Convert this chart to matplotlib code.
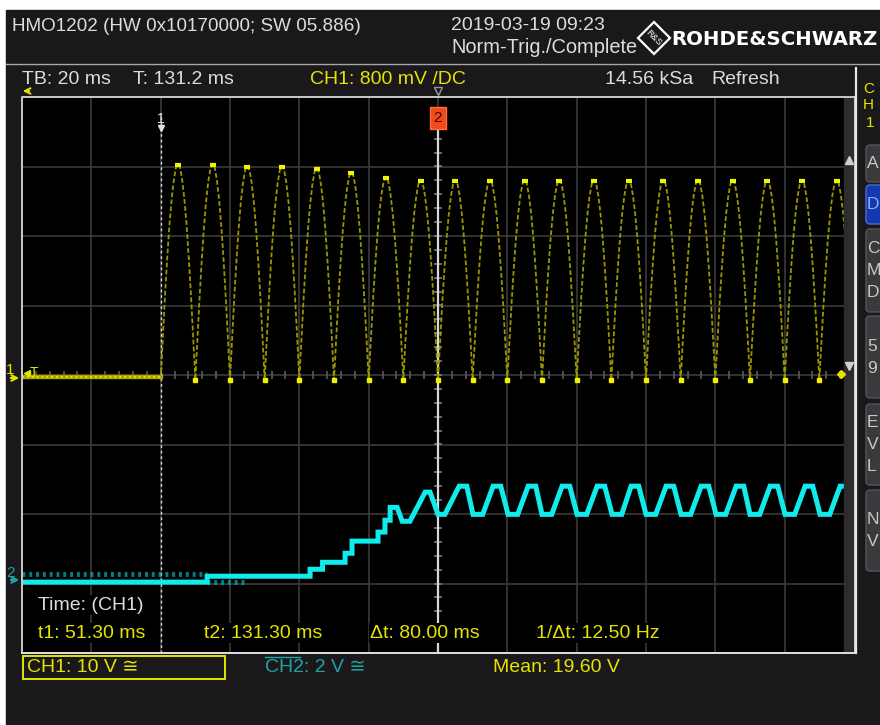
import numpy as np
import matplotlib.pyplot as plt
from matplotlib.patches import Rectangle, Polygon, FancyBboxPatch

plt.rcParams['font.family'] = ['Liberation Sans', 'DejaVu Sans']

W, H = 880, 725

# ---- values ----
tb_ms_per_div = 20
t_left_ms = 11.3          # left edge of the screen
t1_ms, t2_ms = 51.3, 131.3

# CH1: rectified mains, 10 V/div, ground at screen centre
ch1_v_per_div = 10
ch1_idle_v = -0.3
ch1_start_ms = 51.3
ch1_halfcycle_ms = 10
ch1_peak_v = [30.4, 30.4, 30.1, 30.1, 29.8, 29.2, 28.5, 28.1, 28.1, 28.1,
              28.1, 28.1, 28.1, 28.1, 28.1, 28.1, 28.1, 28.1, 28.1, 28.1]
ch1_trough_v = -0.7
ch1_pulse_shape = [0.0, 0.2, 0.39, 0.56, 0.71, 0.83, 0.92, 0.98, 1.0,
                   0.98, 0.92, 0.83, 0.71, 0.56, 0.39, 0.2, 0.0]

# CH2: 2 V/div, ground 2.91 div below centre
ch2_v_per_div = 2
ch2_offset_div = -2.91
ch2_ramp_t = [11.3, 64.7, 64.7, 94.4, 94.4, 98.0, 98.0, 104.5, 104.5, 106.5, 106.5, 114.0,
              114.0, 116.0, 116.0, 117.5, 117.5, 119.5, 121.0, 123.2, 127.6, 129.0, 131.3, 133.3]
ch2_ramp_v = [-0.14, -0.14, 0.03, 0.03, 0.23, 0.23, 0.43, 0.43, 0.69, 0.69, 1.04, 1.04,
              1.30, 1.30, 1.64, 1.64, 2.01, 2.01, 1.61, 1.61, 2.45, 2.45, 1.81, 1.81]
ch2_peak_t = [138.5, 148.3, 158.4, 168.2, 178.3, 188.1, 198.2, 208.3, 218.4, 228.2, 238.3, 248.4]
ch2_peak_v = [2.62, 2.62, 2.62, 2.62, 2.62, 2.62, 2.62, 2.62, 2.62, 2.62, 2.62, 2.62]
ch2_trough_t = [142.8, 152.9, 162.7, 172.8, 182.9, 192.7, 202.8, 212.9, 222.7, 232.8, 242.9]
ch2_trough_v = [1.81, 1.81, 1.81, 1.81, 1.81, 1.81, 1.81, 1.81, 1.81, 1.81, 1.81]
ch2_jitter_t = [(11.3, 64.7), (64.7, 76.2)]
ch2_jitter_v = [0.10, -0.14]

YEL = '#e4e400'
CYAN = '#10ecec'
TEAL = '#1fa3a3'
GRID = '#3a3a3a'
TXT = '#dcdcdc'


def px_box(x0, y0, x1, y1):
    return [x0 / W, 1 - y1 / H, (x1 - x0) / W, (y1 - y0) / H]


fig = plt.figure(figsize=(W / 100, H / 100), dpi=100)
fig.patch.set_facecolor('white')

bg = fig.add_axes([0, 0, 1, 1], zorder=0)
bg.set_xlim(0, W)
bg.set_ylim(H, 0)
bg.axis('off')
bg.add_patch(Rectangle((6, 10), W, H, color='#1b181b'))

# ---- scope screen ----
ax = fig.add_axes(px_box(22, 97, 854, 653), zorder=1)
ax.set_facecolor('black')
ax.set_xlim(t_left_ms, t_left_ms + 12 * tb_ms_per_div)
ax.set_ylim(-4, 4)
ax.set_xticks(t_left_ms + tb_ms_per_div * np.arange(13))
ax.set_yticks(np.arange(-4, 5))
ax.grid(color=GRID, lw=1.2)
ax.tick_params(length=0, labelbottom=False, labelleft=False)
for s in ax.spines.values():
    s.set_visible(False)

# minor ticks on the centre axes
t_mid = t_left_ms + 6 * tb_ms_per_div
ax.plot(t_left_ms + np.arange(0, 12.01, 0.2) * tb_ms_per_div, np.zeros(61), '|',
        color='#5a5a5a', ms=6, mew=1.2)
ax.plot(np.full(41, t_mid), np.arange(-4, 4.01, 0.2), '_', color='#7a7a7a', ms=6, mew=1.2)

# cursors
ax.axvline(t1_ms, ymax=0.972, color='#d8d8d8', lw=1, ls=(0, (2, 2)))
ax.axvline(t2_ms, ymax=0.95, color='#d8d8d8', lw=1.6)

# CH1 trace
shape = np.array(ch1_pulse_shape)
seg_t = np.linspace(0, ch1_halfcycle_ms, len(shape))
pulse_t, pulse_v = [], []
for k, pk in enumerate(ch1_peak_v):
    t0 = ch1_start_ms + k * ch1_halfcycle_ms
    pulse_t.extend(t0 + seg_t)
    pulse_v.extend(ch1_trough_v + (pk - ch1_trough_v) * shape)
pulse_v = np.array(pulse_v) / ch1_v_per_div
ax.plot(pulse_t, pulse_v, color='#9a9600', lw=1.3, ls=(0, (2.6, 1.3)))
peak_t = ch1_start_ms + ch1_halfcycle_ms * (np.arange(len(ch1_peak_v)) + 0.5)
ax.plot(peak_t, np.array(ch1_peak_v) / ch1_v_per_div - 0.015, '_', color='#f4f400', ms=5, mew=3)
trough_t = ch1_start_ms + ch1_halfcycle_ms * np.arange(1, len(ch1_peak_v) + 1)
ax.plot(trough_t, np.full(len(trough_t), ch1_trough_v) / ch1_v_per_div, 's',
        color='#f0f000', ms=2.5)
ax.plot([t_left_ms, ch1_start_ms], [ch1_idle_v / ch1_v_per_div] * 2, color='#a8a400', lw=3.2)
ax.plot([t_left_ms, ch1_start_ms], [ch1_idle_v / ch1_v_per_div] * 2, color='#e8e400',
        lw=1.4, ls=(0, (1, 1.5)))

# CH2 trace
c2_t = list(ch2_ramp_t)
c2_v = list(ch2_ramp_v)
events = sorted([(t, v, 1.1) for t, v in zip(ch2_peak_t, ch2_peak_v)] +
                [(t, v, 1.4) for t, v in zip(ch2_trough_t, ch2_trough_v)])
for t, v, hw in events:
    c2_t += [t - hw, t + hw]
    c2_v += [v, v]
c2_div = np.array(c2_v) / ch2_v_per_div + ch2_offset_div
for (ta, tb), v in zip(ch2_jitter_t, ch2_jitter_v):
    ax.plot([ta, tb], [v / ch2_v_per_div + ch2_offset_div] * 2, color='#0bb5b5',
            lw=3.5, ls=(0, (0.6, 0.8)), alpha=0.7)
ax.plot(c2_t, c2_div, color=CYAN, lw=3.6, solid_joinstyle='miter')

# ---- overlay: frame, labels, menus ----
ov = fig.add_axes([0, 0, 1, 1], zorder=2)
ov.set_xlim(0, W)
ov.set_ylim(H, 0)
ov.axis('off')
ov.patch.set_alpha(0)

ov.plot([6, W], [64, 64], color='#a8a8a8', lw=1)
ov.add_patch(Rectangle((844, 97), 10, 556, color='#2c2c2c'))
ov.plot([22, 22, 855, 855], [653, 97, 97, 653], color='#c8c8c8', lw=1.4)
ov.plot([22, 855], [653, 653], color='#e0e0e0', lw=1.4)
ov.plot([856, 856], [68, 653], color='#e8e8e8', lw=1.6)
ov.plot(849, 160, '^', color='#d0d0d0', ms=6)
ov.plot(849, 366, 'v', color='#d0d0d0', ms=6)
ov.plot(841, 374, 'D', color=YEL, ms=4)

fs = 14
ov.text(12, 26, 'HMO1202 (HW 0x10170000; SW 05.886)', color=TXT, fontsize=13.6, va='center')
ov.text(451, 25, '2019-03-19 09:23', color=TXT, fontsize=fs, va='center')
ov.text(451, 47, 'Norm-Trig./Complete', color=TXT, fontsize=14.4, va='center')
ov.add_patch(Polygon([[654, 22], [670, 38], [654, 54], [638, 38]], closed=True,
                     fill=False, ec='white', lw=1.6))
ov.text(654, 38, 'R&S', color='white', fontsize=6.5, rotation=-45, ha='center', va='center')
ov.text(671, 39, 'ROHDE&SCHWARZ', color='white', fontsize=14.2, fontweight='bold',
        va='center', family=['DejaVu Sans'])

ov.text(22, 79, 'TB: 20 ms', color=TXT, fontsize=fs, va='center')
ov.text(133, 79, 'T: 131.2 ms', color=TXT, fontsize=fs, va='center')
ov.text(310, 79, 'CH1: 800 mV /DC', color=YEL, fontsize=fs, va='center')
ov.text(605, 79, '14.56 kSa', color=TXT, fontsize=fs, va='center')
ov.text(711, 79, 'Refresh', color=TXT, fontsize=fs, va='center')
ov.annotate('', xy=(20, 91), xytext=(32, 91),
            arrowprops=dict(arrowstyle='->', color=YEL, lw=1.4))
ov.plot(438, 91, 'v', mfc='none', mec='#9a9a9a', ms=6)

# cursor flags
ov.text(161, 119, '1', color='#e0e0e0', fontsize=10, ha='center', va='center')
ov.plot(161, 128, 'v', color='#e0e0e0', ms=4)
ov.text(438, 118, '2', color='#3a0a00', fontsize=11, ha='center', va='center',
        bbox=dict(boxstyle='square,pad=0.25', fc='#f04a18', ec='#ff7040', lw=1))

# ground / trigger markers on the left
ov.text(6, 370, '1', color=YEL, fontsize=11, va='center')
ov.annotate('', xy=(22, 378), xytext=(8, 378), arrowprops=dict(arrowstyle='->', color=YEL, lw=1.5))
ov.plot(27, 373, '<', color=YEL, ms=4)
ov.text(30, 373, 'T', color=YEL, fontsize=10, va='center')
ov.text(6, 573, '2', color=TEAL, fontsize=11, va='center')
ov.annotate('', xy=(22, 580), xytext=(8, 580), arrowprops=dict(arrowstyle='->', color=TEAL, lw=1.5))

# cursor readout
box = dict(fc='black', ec='none', pad=1)
ov.text(38, 605, 'Time: (CH1)', color=TXT, fontsize=fs, va='center', bbox=box)
ov.text(38, 633, 't1: 51.30 ms', color=YEL, fontsize=fs, va='center', bbox=box)
ov.text(204, 633, 't2: 131.30 ms', color=YEL, fontsize=fs, va='center', bbox=box)
ov.text(370, 633, '\u0394t: 80.00 ms', color=YEL, fontsize=fs, va='center', bbox=box)
ov.text(536, 633, '1/\u0394t: 12.50 Hz', color=YEL, fontsize=fs, va='center', bbox=box)

# channel bar below the screen
ov.add_patch(Rectangle((23, 656), 202, 23, fill=False, ec=YEL, lw=1.4))
ov.text(27, 667, 'CH1: 10 V \u2245', color=YEL, fontsize=fs, va='center')
ov.text(265, 667, 'CH2: 2 V \u2245', color=TEAL, fontsize=fs, va='center')
ov.plot([265, 300], [657, 657], color=TEAL, lw=1)
ov.text(493, 667, 'Mean: 19.60 V', color=YEL, fontsize=fs, va='center')

# side menu, cut by the right edge of the screenshot
ov.text(863, 89, 'C', color=YEL, fontsize=11, va='center')
ov.text(863, 105, 'H', color=YEL, fontsize=11, va='center')
ov.text(866, 123, '1', color=YEL, fontsize=11, va='center')
buttons = [(145, 182, ['A'], False), (185, 224, ['D'], True), (229, 312, ['C', 'M', 'D'], False),
           (316, 398, ['5', '9'], False), (404, 485, ['E', 'V', 'L'], False),
           (490, 571, ['N', 'V'], False)]
for y0, y1, letters, active in buttons:
    ov.add_patch(FancyBboxPatch((866, y0), 30, y1 - y0, boxstyle='round,pad=0,rounding_size=4',
                                fc='#1538b0' if active else '#3a3a3c',
                                ec='#4a6ad0' if active else '#55555a', lw=1))
    n = len(letters)
    for i, ch in enumerate(letters):
        yc = (y0 + y1) / 2 + (i - (n - 1) / 2) * 22
        ov.text(867, yc, ch, color='#7fb0ff' if active else '#c8c8c8', fontsize=12.5, va='center')

fig.savefig('out.png', dpi=100, facecolor=fig.get_facecolor())
